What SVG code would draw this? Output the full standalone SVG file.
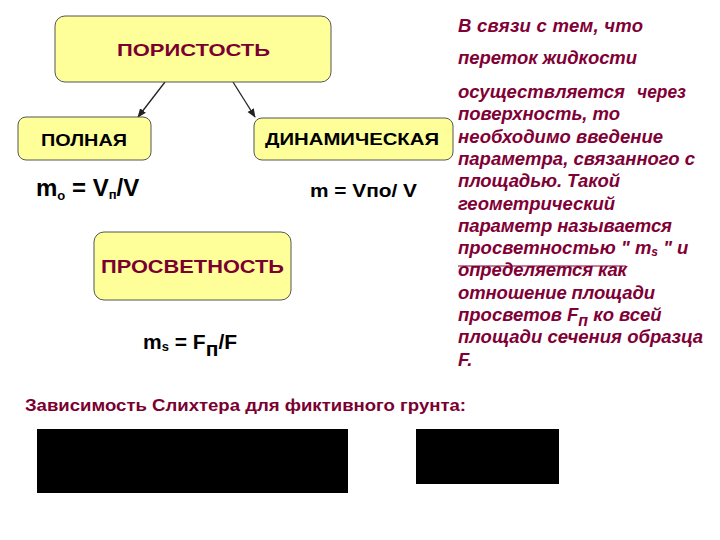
<svg xmlns="http://www.w3.org/2000/svg" width="720" height="540" viewBox="0 0 720 540">
<style>
.box{fill:#FFFF99;stroke:#555;stroke-width:1}
.lbl{font-family:"Liberation Sans",Arial,sans-serif;font-weight:bold}
.dark{fill:#000}
.red{fill:#7a0030}
.it{font-family:"Liberation Sans",Arial,sans-serif;font-weight:bold;font-style:italic;font-size:18.5px;fill:#800035}
.conn{stroke:#222;stroke-width:1.3;fill:none}
</style>
<defs>
<marker id="ah" viewBox="0 0 10 10" refX="9" refY="5" markerWidth="7" markerHeight="7" orient="auto">
<path d="M0,1 L10,5 L0,9 z" fill="#222"/>
</marker>
</defs>
<rect width="720" height="540" fill="#fff"/>
<g id="connectors">
<line class="conn" x1="165" y1="82" x2="138" y2="117" marker-end="url(#ah)"/>
<line class="conn" x1="233" y1="82" x2="255" y2="117" marker-end="url(#ah)"/>
</g>
<g id="poristost">
<rect class="box" x="55" y="16" width="276" height="66" rx="10"/>
<text class="lbl red" x="117" y="56" font-size="17" textLength="153" lengthAdjust="spacingAndGlyphs">ПОРИСТОСТЬ</text>
</g>
<g id="polnaya">
<rect class="box" x="18" y="117" width="133" height="43" rx="8"/>
<text class="lbl dark" x="41" y="146" font-size="17" textLength="86" lengthAdjust="spacingAndGlyphs">ПОЛНАЯ</text>
</g>
<g id="dinamicheskaya">
<rect class="box" x="254" y="118" width="199" height="42" rx="8"/>
<text class="lbl dark" x="265" y="145" font-size="17" textLength="174" lengthAdjust="spacingAndGlyphs">ДИНАМИЧЕСКАЯ</text>
</g>
<g id="prosvetnost">
<rect class="box" x="94" y="232" width="197" height="68" rx="10"/>
<text class="lbl red" x="101" y="273" font-size="18" textLength="183" lengthAdjust="spacingAndGlyphs">ПРОСВЕТНОСТЬ</text>
</g>
<g id="formulas">
<text class="lbl dark" x="36" y="196" font-size="24">m<tspan font-size="13" dy="4">o</tspan><tspan dy="-4"> = V</tspan><tspan font-size="13" dy="3">п</tspan><tspan dy="-3">/V</tspan></text>
<text class="lbl dark" x="310" y="197" font-size="18" textLength="107" lengthAdjust="spacingAndGlyphs">m = Vпо/ V</text>
<text class="lbl dark" x="143" y="349" font-size="21">m<tspan font-size="13" dy="2">s</tspan><tspan dy="-2"> = F</tspan><tspan dy="7">п</tspan><tspan dy="-7">/F</tspan></text>
</g>
<g id="description">
<text class="it" x="458" y="32" textLength="185" lengthAdjust="spacing">В связи с тем,  что</text>
<text class="it" x="458" y="64" textLength="179" lengthAdjust="spacing">переток жидкости</text>
<text class="it" x="458" y="98" textLength="167" lengthAdjust="spacingAndGlyphs">осуществляется</text>
<text class="it" x="637" y="98" textLength="49" lengthAdjust="spacingAndGlyphs">через</text>
<text class="it" x="458" y="120.3" textLength="162" lengthAdjust="spacing">поверхность, то</text>
<text class="it" x="458" y="142.6" textLength="205" lengthAdjust="spacing">необходимо введение</text>
<text class="it" x="458" y="164.9" textLength="237" lengthAdjust="spacing">параметра, связанного с</text>
<text class="it" x="458" y="187.2" textLength="162" lengthAdjust="spacing">площадью. Такой</text>
<text class="it" x="458" y="209.5" textLength="157" lengthAdjust="spacing">геометрический</text>
<text class="it" x="458" y="231.8" textLength="214" lengthAdjust="spacing">параметр называется</text>
<text class="it" x="458" y="254.1">просветностью " m<tspan font-size="12" dy="2">s</tspan><tspan dy="-2"> " и</tspan></text>
<line x1="458" y1="266" x2="626" y2="266" stroke="#800035" stroke-width="1"/>
<text class="it" x="458" y="276.4" textLength="169" lengthAdjust="spacing">определяется как</text>
<text class="it" x="458" y="298.7" textLength="197" lengthAdjust="spacing">отношение площади</text>
<text class="it" x="458" y="321">просветов F<tspan font-size="16" dy="5">п</tspan><tspan dy="-5"> ко всей</tspan></text>
<text class="it" x="458" y="343.3" textLength="245" lengthAdjust="spacing">площади сечения образца</text>
<text class="it" x="458" y="365.6">F.</text>
</g>
<g id="slichter">
<text class="lbl red" x="25" y="411" font-size="17" textLength="441" lengthAdjust="spacingAndGlyphs">Зависимость Слихтера для фиктивного грунта:</text>
<rect x="37" y="429" width="311" height="64" fill="#000"/>
<rect x="416" y="429" width="143" height="55" fill="#000"/>
</g>
</svg>
